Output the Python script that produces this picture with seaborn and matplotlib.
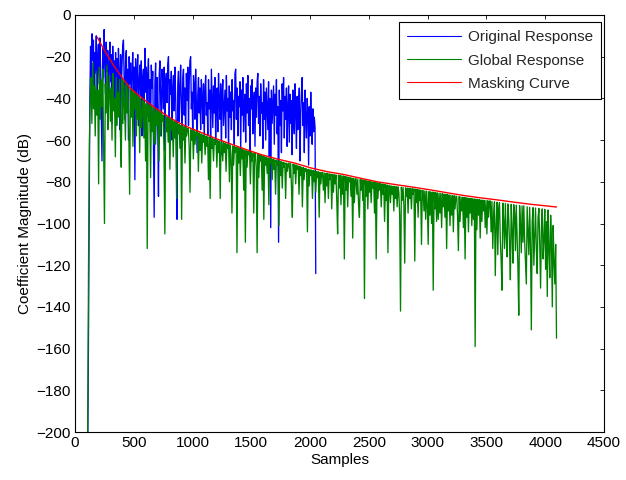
import numpy as np
import pandas as pd
import matplotlib
matplotlib.use("Agg")
import matplotlib.pyplot as plt
from matplotlib.lines import Line2D
import seaborn as sns

# sample range of each response
orig_start, orig_end = 108, 2048
glob_start, glob_end = 108, 4096

# original response (dB) in blocks of ~240 samples
orig_db = [
    -210, -160, -95, -40, -15, -30, -9, -22, -12, -35, -18, -28, -10, -42, -20, -14, -33, -11, -25, -48,
    -70, -16, -30, -7, -21, -38, -13, -27, -17, -44, -24, -13, -32, -19, -52, -15, -29, -22, -40, -18,
    -34, -21, -46, -16, -27, -55, -19, -38, -24, -15, -12, -30, -50, -22, -17, -41, -26, -60, -20, -33,
    -23, -47, -28, -18, -36, -25, -79, -21, -43, -29, -19, -53, -32, -24, -39, -22, -58, -30, -26, -45,
    -16, -37, -25, -49, -28, -21, -44, -31, -56, -24, -35, -27, -62, -97, -33, -23, -47, -30, -52, -87,
    -29, -22, -40, -58, -26, -34, -45, -25, -65, -32, -28, -42, -24, -20, -50, -31, -38, -27, -60, -35,
    -29, -46, -25, -39, -57, -98, -33, -27, -51, -36, -24, -44, -62, -30, -26, -48, -35, -58, -28, -41,
    -25, -53, -32, -22, -20, -45, -37, -60, -29, -34, -50, -26, -42, -66, -38, -30, -47, -35, -55, -31,
    -40, -52, -33, -61, -37, -29, -48, -42, -58, -31, -45, -36, -64, -26, -39, -54, -34, -47, -30, -60,
    -43, -35, -56, -28, -41, -50, -33, -67, -38, -31, -53, -44, -36, -59, -29, -46, -40, -63, -34, -49,
    -37, -55, -31, -46, -41, -62, -28, -26, -50, -35, -58, -39, -44, -32, -65, -36, -48, -30, -56, -42,
    -38, -61, -33, -47, -29, -53, -40, -68, -34, -45, -31, -57, -43, -37, -63, -35, -49, -32, -28, -52,
    -39, -58, -33, -47, -42, -64, -31, -50, -37, -60, -35, -45, -55, -32, -68, -40, -102, -36, -52, -43,
    -34, -62, -38, -48, -31, -57, -44, -109, -36, -53, -41, -66, -33, -46, -30, -59, -39, -50, -35, -63,
    -44, -34, -61, -38, -52, -41, -67, -36, -49, -57, -33, -46, -64, -39, -55, -43, -35, -70, -48, -37,
    -30, -53, -42, -66, -36, -50, -59, -40, -47, -72, -44, -58, -37, -51, -62, -45, -56, -49, -54, -124,
]

# global response (dB), blocks of ~285 samples
glob_db = [
    -205, -120, -62, -40, -30, -52, -23, -45, -34, -58, -27, -48, -36, -81, -25, -50, -31, -44, -26, -62,
    -100, -33, -47, -24, -55, -38, -29, -51, -35, -60, -28, -46, -40, -68, -30, -53, -37, -49, -31, -57,
    -73, -30.5, -52, -31.5, -44, -60, -33.2, -47, -34.2, -55, -86, -35.5, -49, -36.4, -63, -37, -45, -38, -58, -38.5,
    -50, -39, -66, -40, -54, -46, -41, -59, -42, -70, -42.5, -112, -43, -51, -43.5, -78, -44, -56, -44.5, -62,
    -45, -62, -45.5, -53, -46, -70, -46.5, -58, -47, -51, -48, -66, -105, -48.5, -56, -49, -61, -49.5, -74, -50,
    -55, -50.5, -68, -51, -59, -51.5, -88, -52, -57, -52.5, -64, -53, -98, -53.5, -60, -53.5, -71, -54, -58, -54.5,
    -54.5, -63, -85, -55, -60, -55, -69, -55.5, -62, -56, -58, -56, -75, -56.5, -65, -57, -71, -57.5, -61, -57.8,
    -67, -58, -63, -58.5, -79, -58.5, -88, -59, -64, -59.3, -70, -59.5, -62, -60, -73, -60.2, -66, -60.5, -88, -61,
    -61, -70, -61.2, -66, -61.5, -75, -61.8, -64, -62, -80, -62.4, -68, -95, -62.8, -72, -63, -66, -63.4, -114, -63.6,
    -71, -64, -77, -64.2, -69, -64.5, -84, -64.8, -109, -65.1, -73, -65.4, -67, -65.6, -81, -65.9, -70, -66.2, -95, -66.5,
    -66.5, -73, -114, -66.8, -78, -67.1, -70, -67.4, -84, -67.7, -98, -68, -72, -68.2, -76, -68.5, -91, -68.7, -71, -69,
    -79, -69.2, -74, -69.5, -86, -69.7, -72, -70, -101, -70.1, -77, -70.4, -83, -70.6, -73, -70.9, -88, -71, -75, -71.3,
    -71, -78, -71.2, -83, -97, -71.5, -76, -71.8, -81, -72, -74, -72.4, -86, -72.6, -77, -73, -92, -73.2, -79, -73.5,
    -75, -73.8, -104, -74, -82, -74.2, -77, -74.4, -88, -74.6, -80, -74.8, -85, -75, -78, -75.2, -97, -75.4, -81, -75.6,
    -75.5, -84, -75.7, -90, -76, -82, -75.9, -88, -76.2, -79, -76.3, -93, -76.5, -85, -76.6, -81, -76.7, -89, -105, -76.8,
    -83, -77, -91, -77.1, -86, -77.2, -117, -77.4, -84, -77.6, -92, -77.8, -80, -78, -87, -78.2, -107, -78.4, -90, -78.6,
    -78.5, -86, -78.7, -91, -97, -78.9, -84, -79, -89, -79.2, -136, -79.3, -87, -79.5, -93, -79.6, -85, -79.8, -90, -80,
    -83, -80.1, -95, -80.3, -117, -80.4, -88, -80.6, -84, -80.8, -92, -81, -86, -81.1, -99, -81.3, -89, -81.5, -114, -81.8,
    -81.8, -90, -82, -86, -82.1, -94, -82.2, -88, -82.3, -92, -82.4, -85, -96, -142, -82.6, -89, -82.7, -91, -119, -82.9,
    -87, -83, -95, -83.1, -88, -83.2, -93, -83.3, -86, -83.4, -118, -83.5, -90, -83.7, -97, -83.8, -89, -84, -110, -84.2,
    -84.2, -94, -84.4, -98, -84.5, -91, -110, -84.7, -96, -84.8, -100, -84.9, -132, -85, -93, -85.2, -99, -85.3, -98, -85.5,
    -95, -85.6, -102, -85.7, -92, -85.9, -97, -86, -112, -86.1, -94, -86.3, -101, -86.4, -96, -86.6, -104, -86.7, -93, -86.9,
    -87, -96, -113, -87.1, -99, -87.3, -94, -87.4, -102, -87.5, -117, -87.6, -97, -87.8, -104, -87.9, -95, -88, -101, -88.1,
    -98, -88.2, -159, -88.3, -103, -88.4, -96, -88.6, -107, -88.7, -99, -88.8, -94, -88.9, -102, -89, -105, -89.1, -97, -89.2,
    -89.2, -104, -89.4, -112, -96, -89.6, -125, -101, -89.8, -115, -93, -90, -108, -118, -132, -90.2, -99, -112, -90.4, -106,
    -116, -90.6, -97, -110, -127, -90.8, -103, -119, -91, -95, -113, -91.2, -107, -121, -144, -91.4, -100, -114, -91.6, -109,
    -91.5, -108, -118, -129, -92, -104, -115, -92.2, -111, -151, -99, -92.4, -120, -106, -92.6, -113, -124, -97, -92.8, -110,
    -131, -102, -93, -117, -108, -93.2, -122, -99, -135, -93.5, -112, -126, -96, -109, -140, -101, -118, -129, -110, -155,
]

# masking curve (dB)
mask_x = [190, 250, 327, 400, 469, 540, 611, 680, 753, 820, 895, 970, 1051, 1200, 1307, 1450,
          1591, 1730, 1875, 2003, 2150, 2287, 2430, 2572, 2710, 2856, 3026, 3170, 3310, 3450,
          3595, 3740, 3879, 4000, 4096]
mask_db = [-10.7, -17, -24, -30, -35, -38.5, -41.6, -44.5, -47.2, -49.7, -52, -54, -55.8, -59.3,
           -61.5, -64.4, -67.1, -69.2, -71.1, -73.3, -75.2, -76.5, -78.3, -80, -81.2, -82.4, -83.9,
           -85.3, -86.6, -87.7, -88.7, -89.8, -90.8, -91.5, -92.1]

labels = ['Original Response', 'Global Response', 'Masking Curve']
colors = ['#0000ff', '#008000', '#ff0000']

orig = pd.DataFrame({'sample': np.linspace(orig_start, orig_end, len(orig_db)), 'db': orig_db})
glob = pd.DataFrame({'sample': np.linspace(glob_start, glob_end, len(glob_db)), 'db': glob_db})
mask = pd.DataFrame({'sample': mask_x, 'db': mask_db})

sns.set_theme(style='white')
plt.rcParams['font.family'] = ['Liberation Sans', 'DejaVu Sans']
fs = 11

fig, ax = plt.subplots(figsize=(6.26, 4.8), dpi=100)
fig.subplots_adjust(left=75 / 626, right=604 / 626, bottom=48 / 480, top=465 / 480)

for df, col, lw in zip([orig, glob, mask], colors, [0.95, 0.95, 1.0]):
    sns.lineplot(data=df, x='sample', y='db', ax=ax, color=col, linewidth=lw,
                 estimator=None, sort=False)

ax.set_xlim(0, 4500)
ax.set_ylim(-200, 0)
ax.set_xticks(np.arange(0, 4501, 500))
ax.set_yticks(np.arange(-200, 1, 20))
ax.set_xlabel('Samples', fontsize=fs, color='black', labelpad=2)
ax.set_ylabel('Coefficient Magnitude (dB)', fontsize=fs, color='black', labelpad=3)
ax.tick_params(direction='in', length=3, width=0.6, top=True, right=True,
               labelsize=fs, colors='black', pad=3)

for sp in ax.spines.values():
    sp.set_color('black')
    sp.set_linewidth(0.8)

handles = [Line2D([], [], color=c, linewidth=0.8) for c in colors]
leg = ax.legend(handles, labels, loc='upper right', bbox_to_anchor=(0.995, 0.983),
                borderaxespad=0, fontsize=fs, frameon=True, fancybox=False, shadow=False,
                handlelength=3.5, handletextpad=0.45, labelspacing=0.6, borderpad=0.55)
leg.get_frame().set_edgecolor('black')
leg.get_frame().set_linewidth(0.8)
leg.get_frame().set_alpha(1)

plt.savefig('out.png', dpi=100)
